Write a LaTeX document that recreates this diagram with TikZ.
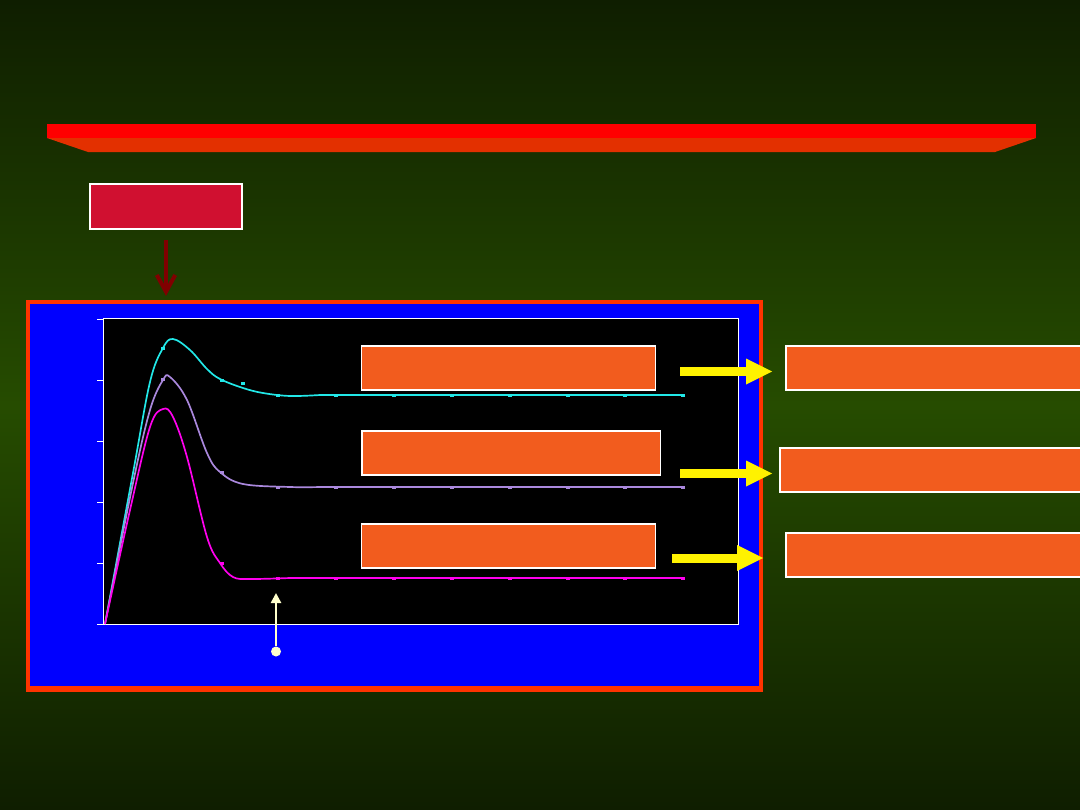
\documentclass[tikz,border=0pt]{standalone}
\usepackage{xcolor}
\usepackage{tikz}
\usetikzlibrary{arrows.meta}
\usetikzlibrary{positioning}
\usetikzlibrary{calc}

\definecolor{bgdark}{HTML}{0F1E00}
\definecolor{bgmid}{HTML}{264C00}
\definecolor{bannertop}{HTML}{FF0000}
\definecolor{bannerlow}{HTML}{E33000}
\definecolor{crimson}{HTML}{D01030}
\definecolor{panelrim}{HTML}{FF3300}
\definecolor{tangerine}{HTML}{F25C1E}
\definecolor{cyancurve}{HTML}{22E8E8}
\definecolor{lavcurve}{HTML}{AA88DD}
\definecolor{magcurve}{HTML}{FF00EE}
\definecolor{cream}{HTML}{FFFFCC}
\definecolor{darkmaroon}{HTML}{800000}

\begin{document}
\begin{tikzpicture}[x=0.025cm,y=-0.025cm]
      \useasboundingbox (0,0) rectangle (1080,810);
      \shade[top color=bgdark,bottom color=bgdark,middle color=bgmid] (0,0) rectangle (1080,810);
      % banner
      \fill[bannertop] (47,124) rectangle (1036,138);
      \fill[bannerlow] (47,138) -- (1036,138) -- (995,152) -- (88,152) -- cycle;
      \begin{scope}[every node/.style={rectangle,draw=white,inner sep=0pt}]
        \node[fill=crimson,line width=1.4pt,minimum width=3.8cm,minimum height=1.125cm] (src) at (166,206.5) {};
        \node[fill=blue,draw=panelrim,line width=2.85pt,minimum width=18.325cm,minimum height=9.675cm] (panel) at (394.5,495.5) {};
        \node[fill=black,line width=0.7pt,minimum width=15.85cm,minimum height=7.625cm] (frame) at (421,471.5) {};
      \end{scope}
      \fill[panelrim] (26,686) rectangle (763,692);
      \begin{scope}[every node/.style={rectangle,draw=white,fill=tangerine,line width=1.05pt,inner sep=0pt,minimum height=1.11cm}]
        \node[minimum width=7.34cm] (b1) at (508.5,368) {};
        \node[minimum width=7.46cm] (b2) at (511,453) {};
        \node[minimum width=7.34cm] (b3) at (508.5,546) {};
        \node[minimum width=7.46cm] (r1) at (935,368) {};
        \node[minimum width=7.61cm] (r2) at (932,470) {};
        \node[minimum width=7.46cm] (r3) at (935,555) {};
      \end{scope}
      % axis ticks
      \foreach \ty in {319,380,441,502,563,624}
        \draw[white,line width=0.7pt] (97,\ty) -- (104,\ty);
      % curves
      \begin{scope}[line width=1.2pt]
        \draw[cyancurve] plot[smooth,tension=0.6] coordinates {(105,624) (133,473) (150,382) (163,348) (173,339) (190,350) (207,369) (220,379) (243,388) (263,393) (290,396) (320,395)} -- (684,395);
        \draw[lavcurve] plot[smooth,tension=0.6] coordinates {(105,624) (133,483) (150,410) (163,380) (170,377) (187,400) (207,453) (220,472) (243,484) (290,487) (320,487)} -- (684,487);
        \draw[magcurve] plot[smooth,tension=0.6] coordinates {(105,624) (130,510) (150,427) (163,409) (173,417) (187,457) (207,537) (220,563) (233,577) (250,579) (290,578)} -- (684,578);
      \end{scope}
      \foreach \mx/\my in {163/348,222/380,243/383,278/395,336/395,394/395,452/395,510/395,568/395,625/395,683/395}
        \fill[cyancurve] (\mx-2,\my-1.5) rectangle (\mx+2,\my+1.5);
      \foreach \mx/\my in {163/379,222/472,278/487,336/487,394/487,452/487,510/487,568/487,625/487,683/487}
        \fill[lavcurve] (\mx-2,\my-1.5) rectangle (\mx+2,\my+1.5);
      \foreach \mx/\my in {222/563,278/578,336/578,394/578,452/578,510/578,568/578,625/578,683/578}
        \fill[magcurve] (\mx-2,\my-1.5) rectangle (\mx+2,\my+1.5);
      % arrows
      \coordinate (y1) at (680,371.5);
      \coordinate (y2) at (680,473.5);
      \coordinate (y3) at (672,558);
      \node[circle,fill=cream,inner sep=0pt,minimum size=0.25cm] (dot) at (276,651.5) {};
      \coordinate (mark) at (276,593);
      \begin{scope}[every edge/.style={draw=yellow,line width=0.225cm,-{Triangle[length=0.65cm,width=0.65cm,line width=0pt]}}]
        \path (y1) edge[shorten >=0.325cm] (y1 -| r1.west);
        \path (y2) edge[shorten >=0.175cm] (y2 -| r2.west);
        \path (y3) edge[shorten >=0.55cm] (y3 -| r3.west);
      \end{scope}
      \draw[darkmaroon,line width=2.85pt,-{Straight Barb[length=0.42cm,width=0.46cm]},shorten <=0.26cm,shorten >=0.1cm] (src.south) -- (src.south |- panel.north);
      \draw[cream,line width=2pt,-{Triangle[length=0.25cm,width=0.25cm]}] (dot) -- (mark);
    \end{tikzpicture}
\end{document}
